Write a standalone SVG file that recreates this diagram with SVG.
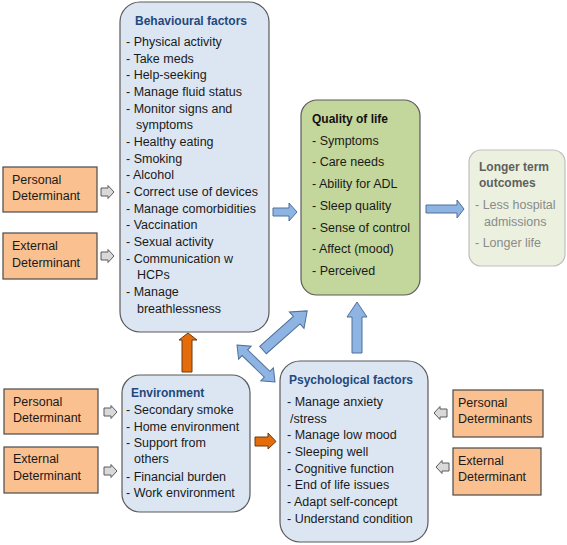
<svg xmlns="http://www.w3.org/2000/svg" width="567" height="545" viewBox="0 0 567 545">
<style>
text{font-family:"Liberation Sans",Arial,sans-serif;font-size:12.5px;fill:#1a1a1a}
.t{font-weight:bold;font-size:12px;fill:#1F497D}
.tq{font-weight:bold;font-size:12px;fill:#111}
.tl{font-weight:bold;font-size:12px;fill:#5f5f5f}
.g{fill:#8a8a8a}
.bb{fill:#DCE6F2;stroke:#5a5a5a;stroke-width:1.2}
.ob{fill:#FAC090;stroke:#4a4a4a;stroke-width:1.2}
.qb{fill:#C3D69B;stroke:#5a5a5a;stroke-width:1.2}
.lb{fill:#EBF1DE;stroke:#BFBFBF;stroke-width:1.2}
.ba{fill:#8EB4E3;stroke:#4F6F99;stroke-width:1}
.oa{fill:#E46C0A;stroke:#6b3a10;stroke-width:1}
.ga{fill:#D9D9D9;stroke:#5a5a5a;stroke-width:1}
</style>
<rect width="567" height="545" fill="#fff"/>

<g id="behavioural">
<rect class="bb" x="120" y="2" width="149" height="330" rx="20"/>
<text class="t" x="191" y="25" text-anchor="middle">Behavioural factors</text>
<text x="126" y="46">- Physical activity</text>
<text x="126" y="63">- Take meds</text>
<text x="126" y="79">- Help-seeking</text>
<text x="126" y="96">- Manage fluid status</text>
<text x="126" y="113">- Monitor signs and</text>
<text x="136" y="129">symptoms</text>
<text x="126" y="146">- Healthy eating</text>
<text x="126" y="163">- Smoking</text>
<text x="126" y="179">- Alcohol</text>
<text x="126" y="196">- Correct use of devices</text>
<text x="126" y="213">- Manage comorbidities</text>
<text x="126" y="229">- Vaccination</text>
<text x="126" y="246">- Sexual activity</text>
<text x="126" y="263">- Communication  w</text>
<text x="137" y="279">HCPs</text>
<text x="126" y="296">- Manage</text>
<text x="137" y="313">breathlessness</text>
</g>

<g id="personal-det-1">
<rect class="ob" x="3" y="167" width="94" height="45"/>
<text x="12" y="184">Personal</text>
<text x="12" y="200">Determinant</text>
</g>
<g id="external-det-1">
<rect class="ob" x="3" y="233" width="94" height="46"/>
<text x="12" y="250">External</text>
<text x="12" y="267">Determinant</text>
</g>

<g id="quality">
<rect class="qb" x="301" y="100" width="119" height="195" rx="16"/>
<text class="tq" x="312" y="123">Quality of life</text>
<text x="312" y="145">- Symptoms</text>
<text x="312" y="166">- Care needs</text>
<text x="312" y="188">- Ability for ADL</text>
<text x="312" y="210">- Sleep quality</text>
<text x="312" y="232">- Sense of control</text>
<text x="312" y="253">- Affect (mood)</text>
<text x="312" y="275">- Perceived</text>
</g>

<g id="longer-term">
<rect class="lb" x="469" y="150" width="96" height="116" rx="12"/>
<text class="tl" x="479" y="171">Longer term</text>
<text class="tl" x="479" y="187">outcomes</text>
<text class="g" x="475" y="209">- Less hospital</text>
<text class="g" x="484" y="226">admissions</text>
<text class="g" x="475" y="247">- Longer life</text>
</g>

<g id="environment">
<rect class="bb" x="122" y="375" width="128" height="137" rx="18"/>
<text class="t" x="131" y="397">Environment</text>
<text x="126" y="414">- Secondary smoke</text>
<text x="126" y="431">- Home environment</text>
<text x="126" y="447">- Support from</text>
<text x="134" y="463">others</text>
<text x="126" y="481">- Financial  burden</text>
<text x="126" y="497">- Work environment</text>
</g>

<g id="personal-det-2">
<rect class="ob" x="4" y="389" width="94" height="45"/>
<text x="13" y="406">Personal</text>
<text x="13" y="422">Determinant</text>
</g>
<g id="external-det-2">
<rect class="ob" x="4" y="447" width="94" height="46"/>
<text x="13" y="463">External</text>
<text x="13" y="480">Determinant</text>
</g>

<g id="psychological">
<rect class="bb" x="280" y="361" width="148" height="181" rx="20"/>
<text class="t" x="289" y="384">Psychological factors</text>
<text x="287" y="406">- Manage anxiety</text>
<text x="290" y="423">/stress</text>
<text x="287" y="439">- Manage low mood</text>
<text x="287" y="456">- Sleeping  well</text>
<text x="287" y="473">- Cognitive  function</text>
<text x="287" y="489">- End of life issues</text>
<text x="287" y="506">- Adapt self-concept</text>
<text x="287" y="523">- Understand  condition</text>
</g>

<g id="personal-det-3">
<rect class="ob" x="453" y="390" width="90" height="47"/>
<text x="458" y="407">Personal</text>
<text x="458" y="423">Determinants</text>
</g>
<g id="external-det-3">
<rect class="ob" x="453" y="448" width="88" height="47"/>
<text x="458" y="465">External</text>
<text x="458" y="481">Determinant</text>
</g>

<g id="connectors">
<polygon class="ga" points="101,188 108,188 108,185.5 114,192 108,198.5 108,196 101,196"/>
<polygon class="ga" points="101,252 108,252 108,249.5 114,256 108,262.5 108,260 101,260"/>
<polygon class="ga" points="104,408 111,408 111,405.5 117,412 111,418.5 111,416 104,416"/>
<polygon class="ga" points="104,467 111,467 111,464.5 117,471 111,477.5 111,475 104,475"/>
<polygon class="ga" points="447,409 440,409 440,406.5 434,413 440,419.5 440,417 447,417"/>
<polygon class="ga" points="449,463 442,463 442,460.5 436,467 442,473.5 442,471 449,471"/>
<polygon class="ba" points="273,208 289,208 289,203 297,212 289,221 289,216 273,216"/>
<polygon class="ba" points="426,205 457,205 457,200 464,209 457,218 457,213 426,213"/>
<polygon class="ba" points="352,353 352,317 347,317 357,302 367,317 362,317 362,353"/>
<polygon class="ba" transform="translate(263,350) rotate(-41.5)" points="0,-5 45,-5 45,-11 59,0 45,11 45,5 0,5"/>
<polygon class="ba" transform="translate(237,345) rotate(44.2)" points="0,0 11,-9 11,-4 42,-4 42,-9 53,0 42,9 42,4 11,4 11,9"/>
<polygon class="oa" points="182,372 182,340 179,340 188,333 197,340 192,340 192,372"/>
<polygon class="oa" points="255,437 268,437 268,433 276,441.5 268,449 268,446 255,446"/>
</g>
</svg>
